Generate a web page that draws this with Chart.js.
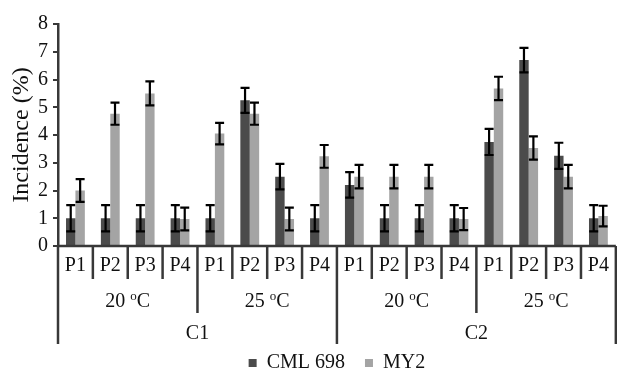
<!DOCTYPE html>
<html>
<head>
<meta charset="utf-8">
<script src="https://cdn.jsdelivr.net/npm/chart.js@4/dist/chart.umd.min.js"></script>
<style>
  html, body { margin: 0; padding: 0; background: #ffffff; }
  #wrap { width: 617px; height: 376px; position: relative; }
</style>
</head>
<body>
<div id="wrap"><canvas id="c" width="617" height="376"></canvas></div>
<script>
// ---- data ----
const categories = ['P1','P2','P3','P4','P1','P2','P3','P4','P1','P2','P3','P4','P1','P2','P3','P4'];
const temperatureGroups = ['20', '25', '20', '25'];   // each spans 4 categories
const cultivarGroups = ['C1', 'C2'];                   // each spans 8 categories
const seriesNames = ['CML 698', 'MY2'];
const cml698 =    [1, 1, 1, 1,   1, 5.25, 2.5, 1,   2.2, 1, 1, 1,   3.75, 6.7, 3.25, 1];
const cml698Err = [0.47, 0.47, 0.47, 0.47,   0.47, 0.45, 0.46, 0.47,   0.46, 0.47, 0.47, 0.47,   0.47, 0.44, 0.47, 0.47];
const my2 =       [2, 4.77, 5.5, 0.97,   4.05, 4.77, 0.97, 3.23,   2.5, 2.5, 2.5, 0.97,   5.68, 3.53, 2.5, 1.08];
const my2Err =    [0.41, 0.4, 0.43, 0.41,   0.39, 0.4, 0.41, 0.41,   0.42, 0.42, 0.42, 0.4,   0.42, 0.42, 0.42, 0.37];
const yTicks = [0, 1, 2, 3, 4, 5, 6, 7, 8];

const FONT = '"Liberation Serif", "Times New Roman", serif';
const AXIS = '#383838';
const TEXT = '#111111';
const FS = 20;

const errorBars = {
  id: 'errorBars',
  afterDatasetsDraw(chart) {
    const ctx = chart.ctx;
    const y = chart.scales.y;
    const errs = [cml698Err, my2Err];
    ctx.save();
    ctx.strokeStyle = '#000000';
    ctx.lineWidth = 2.2;
    chart.data.datasets.forEach((ds, di) => {
      const meta = chart.getDatasetMeta(di);
      meta.data.forEach((bar, i) => {
        const v = ds.data[i], e = errs[di][i];
        const x = bar.x;
        const yt = y.getPixelForValue(v + e);
        const yb = y.getPixelForValue(v - e);
        const cw = 4.5;
        ctx.beginPath();
        ctx.moveTo(x, yt); ctx.lineTo(x, yb);
        ctx.moveTo(x - cw, yt); ctx.lineTo(x + cw, yt);
        ctx.moveTo(x - cw, yb); ctx.lineTo(x + cw, yb);
        ctx.stroke();
      });
    });
    ctx.restore();
  }
};

const groupAxis = {
  id: 'groupAxis',
  afterDraw(chart) {
    const ctx = chart.ctx;
    const xs = chart.scales.x;
    const area = chart.chartArea;
    const n = categories.length;
    const boundary = k => {
      if (k === 0) return area.left;
      if (k === n) return area.right;
      return (xs.getPixelForValue(k - 1) + xs.getPixelForValue(k)) / 2;
    };
    const base = area.bottom;
    const lvl1 = base + 33, lvl2 = base + 67, lvl3 = base + 98;
    ctx.save();
    ctx.strokeStyle = AXIS;
    ctx.lineWidth = 2.5;
    // x axis line
    ctx.beginPath();
    ctx.moveTo(area.left - 1, base); ctx.lineTo(area.right, base);
    ctx.stroke();
    // separators
    for (let k = 0; k <= n; k++) {
      let end = lvl1;
      if (k % 8 === 0) end = lvl3;
      else if (k % 4 === 0) end = lvl2;
      const bx = boundary(k);
      ctx.beginPath();
      ctx.moveTo(bx, base); ctx.lineTo(bx, end);
      ctx.stroke();
    }
    // temperature labels
    ctx.fillStyle = TEXT;
    ctx.textBaseline = 'middle';
    temperatureGroups.forEach((t, g) => {
      const cx = (boundary(g * 4) + boundary(g * 4 + 4)) / 2;
      const cy = base + 56;
      ctx.font = FS + 'px ' + FONT;
      const w1 = ctx.measureText(t + ' ').width;
      const w3 = ctx.measureText('C').width;
      ctx.font = '13px ' + FONT;
      const w2 = ctx.measureText('o').width;
      const total = w1 + w2 + w3;
      let sx = cx - total / 2;
      ctx.textAlign = 'left';
      ctx.font = FS + 'px ' + FONT;
      ctx.fillText(t + ' ', sx, cy);
      ctx.font = '13px ' + FONT;
      ctx.fillText('o', sx + w1, cy - 5);
      ctx.font = FS + 'px ' + FONT;
      ctx.fillText('C', sx + w1 + w2, cy);
    });
    // cultivar labels
    ctx.textAlign = 'center';
    ctx.font = FS + 'px ' + FONT;
    cultivarGroups.forEach((c, g) => {
      const cx = (boundary(g * 8) + boundary(g * 8 + 8)) / 2;
      ctx.fillText(c, cx, base + 88);
    });
    ctx.restore();
  }
};

new Chart(document.getElementById('c'), {
  type: 'bar',
  data: {
    labels: categories,
    datasets: [
      { label: seriesNames[0], data: cml698, backgroundColor: '#4b4b4b', borderWidth: 0 },
      { label: seriesNames[1], data: my2, backgroundColor: '#a4a4a4', borderWidth: 0 }
    ]
  },
  options: {
    responsive: false,
    animation: false,
    devicePixelRatio: 1,
    layout: { padding: { top: 24, right: 1, left: 0, bottom: 0 } },
    datasets: { bar: { categoryPercentage: 0.54, barPercentage: 1.0 } },
    plugins: {
      legend: {
        position: 'bottom',
        fullSize: false,
        maxHeight: 43,
        labels: {
          boxWidth: 8, boxHeight: 8, padding: 20,
          color: TEXT,
          font: { family: FONT, size: FS }
        }
      },
      tooltip: { enabled: false }
    },
    scales: {
      x: {
        grid: { display: false, drawTicks: false },
        border: { display: false },
        ticks: { color: TEXT, font: { family: FONT, size: FS }, padding: 8, maxRotation: 0, autoSkip: false },
        afterFit: s => { s.height = 87; }
      },
      y: {
        min: 0, max: 8,
        afterBuildTicks: s => { s.ticks = yTicks.map(v => ({ value: v })); },
        grid: { display: true, drawOnChartArea: false, drawTicks: true, tickLength: 5, color: AXIS, lineWidth: 2 },
        border: { display: true, color: AXIS, width: 2.5 },
        ticks: { color: TEXT, font: { family: FONT, size: FS }, padding: 5, autoSkip: false },
        title: { display: true, text: 'Incidence (%)', color: TEXT, font: { family: FONT, size: 24 }, padding: { top: 7, bottom: 2 } },
        afterFit: s => { s.width = 58; }
      }
    }
  },
  plugins: [errorBars, groupAxis]
});
</script>
</body>
</html>
